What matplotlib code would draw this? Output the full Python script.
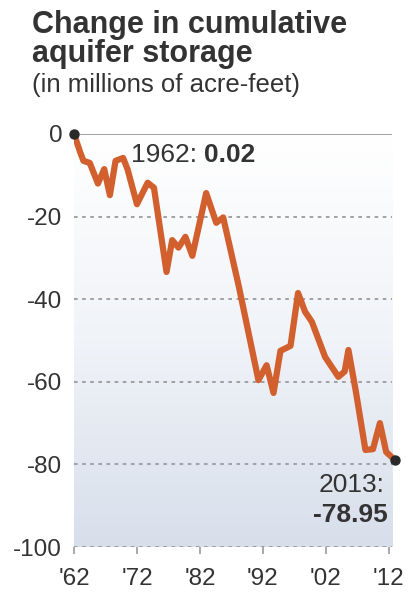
import numpy as np
import matplotlib as mpl
import matplotlib.pyplot as plt
from matplotlib.colors import LinearSegmentedColormap

plt.rcParams['font.family'] = ['Liberation Sans', 'DejaVu Sans']

# Data (fractional years, millions of acre-feet)
years = [1962.0, 1963.0, 1963.5, 1964.5, 1965.8, 1966.8, 1967.7, 1968.6,
         1969.8, 1970.5, 1972.0, 1973.7, 1974.7, 1976.7, 1977.6, 1978.6,
         1979.7, 1980.8, 1983.0, 1984.6, 1985.7, 1988.2, 1991.3, 1992.6,
         1993.7, 1994.8, 1996.4, 1997.6, 1998.7, 1999.8, 2001.9, 2004.0,
         2005.0, 2005.6, 2006.8, 2008.3, 2009.5, 2010.6, 2011.6, 2013.0]
storage = [0.02, -4.5, -6.5, -7.0, -12.0, -8.5, -14.8, -6.5,
           -5.8, -8.5, -17.0, -11.8, -13.0, -33.4, -25.7, -27.5,
           -24.9, -29.5, -14.3, -21.5, -20.2, -37.0, -59.6, -56.0,
           -62.7, -52.5, -51.3, -38.5, -43.0, -45.5, -54.0, -58.8,
           -57.5, -52.3, -62.5, -76.5, -76.3, -70.0, -77.0, -78.95]

y_ticks = [0, -20, -40, -60, -80, -100]
x_ticks = [1962, 1972, 1982, 1992, 2002, 2012]
x_labels = ["'62", "'72", "'82", "'92", "'02", "'12"]

text_col = '#333333'
line_col = '#d2602f'
grid_col = '#9a9a9a'

fig = plt.figure(figsize=(4.09, 5.99), dpi=100)
fig.patch.set_facecolor('white')

# Title block
fig.text(32/409, 1 - 33/599, 'Change in cumulative', fontsize=22,
         fontweight='bold', color=text_col, va='baseline')
fig.text(32/409, 1 - 62/599, 'aquifer storage', fontsize=22,
         fontweight='bold', color=text_col, va='baseline')
fig.text(32/409, 1 - 92/599, '(in millions of acre-feet)', fontsize=18.5,
         color=text_col, va='baseline')

ax = fig.add_axes([74/409, 52/599, 321/409, 413/599])
ax.set_xlim(1962, 2013)
ax.set_ylim(-100, 0)

# Background gradient (white at top to pale blue at bottom)
cmap = LinearSegmentedColormap.from_list('bg', ['#ffffff', '#f0f3f8', '#d7dfeb'])
grad = np.linspace(1, 0, 256).reshape(-1, 1)
ax.imshow(grad, cmap=cmap, aspect='auto', extent=[1962, 2012.6, -100, 0],
          origin='lower', zorder=0)

# Grid lines
for v in y_ticks[1:]:
    ax.plot([1962, 2012.6], [v, v], color=grid_col, lw=1.3,
            linestyle=(0, (2, 2.5)), zorder=1)
ax.plot([1963, 2012.6], [0, 0], color=grid_col, lw=1.3, zorder=1,
        solid_capstyle='butt')

ax.plot(years, storage, color=line_col, lw=4.5, solid_joinstyle='round',
        zorder=3)
ax.plot([years[0], years[-1]], [storage[0], storage[-1]], 'o',
        color='#2a2a2a', ms=6.5, zorder=4, clip_on=False)

for s in ax.spines.values():
    s.set_visible(False)

ax.set_yticks(y_ticks)
ax.set_yticklabels([str(v) for v in y_ticks], fontsize=17.5, color=text_col)
ax.tick_params(axis='y', length=0, pad=8.5)
ax.set_xticks(x_ticks)
ax.set_xticklabels(x_labels, fontsize=17.5, color=text_col)
ax.tick_params(axis='x', length=5, width=1.2, color=grid_col, pad=10)

# Annotations
t1 = ax.text(1971.0, -6.8, '1962: ', fontsize=19, color=text_col,
             ha='left', va='baseline')
ax.annotate('0.02', xy=(1, 0), xycoords=t1, fontsize=19, fontweight='bold',
            color=text_col, ha='left', va='bottom')

ax.text(2011.4, -86.7, '2013:', fontsize=19, color=text_col,
        ha='right', va='baseline')
ax.text(2011.9, -94.0, '-78.95', fontsize=19, fontweight='bold',
        color=text_col, ha='right', va='baseline')

plt.savefig('out.png', dpi=100)
